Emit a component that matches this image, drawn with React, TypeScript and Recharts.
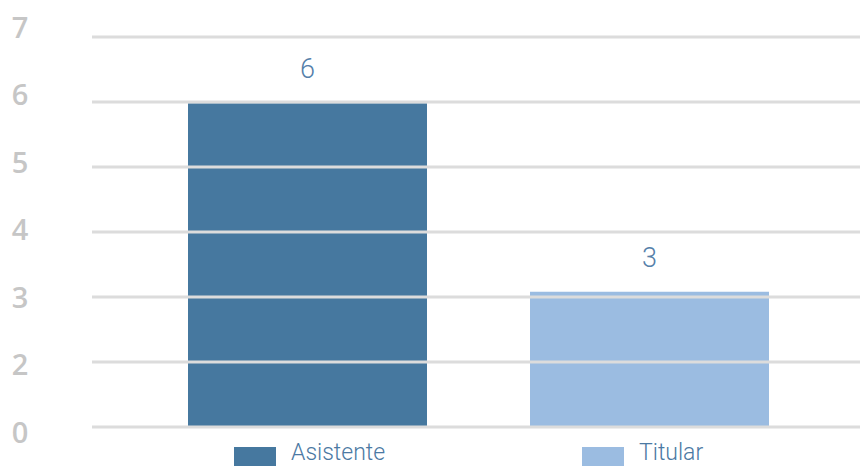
import React from 'react';
import { BarChart, Bar, XAxis, YAxis, ReferenceLine, LabelList, Cell } from 'recharts';

const categories = ['Asistente', 'Titular'];
const barHeights = [5.98, 3.08];
const valueLabels = ['6', '3'];
const yTicks = [1, 2, 3, 4, 5, 6, 7];
const yTickLabels = ['0', '2', '3', '4', '5', '6', '7'];
const colors = ['#46789f', '#9bbce1'];

const data = categories.map((name, i) => ({ name, value: barHeights[i], label: valueLabels[i] }));

const groupWidths: Record<string, number> = { Asistente: 146, Titular: 134 };

const XTick = (props: any) => {
  const { x, y, payload, index } = props;
  const name: string = payload.value;
  const total = groupWidths[name] ?? 140;
  const start = x - total / 2;
  return (
    <g>
      <rect x={start} y={y + 20} width={42} height={19} fill={colors[index % colors.length]} />
      <text
        x={start + 57}
        y={y + 33}
        fill="#4b79a3"
        fontSize={23}
        fontWeight={300}
        fontFamily="Roboto, sans-serif"
        textAnchor="start"
      >
        {name}
      </text>
    </g>
  );
};

const YTick = (props: any) => {
  const { y, payload } = props;
  const idx = yTicks.indexOf(payload.value);
  const base = 427;
  const ly = base + (y - base) * 1.038 + 4;
  return (
    <text
      x={20}
      y={ly}
      fill="#c6c6c6"
      fontSize={29}
      fontWeight={600}
      fontFamily="'Open Sans', sans-serif"
      textAnchor="middle"
      dominantBaseline="central"
    >
      {yTickLabels[idx]}
    </text>
  );
};

export default function App() {
  return (
    <div style={{ position: 'absolute', left: 0, top: 0, width: 861, height: 466, background: '#fff' }}>
      <BarChart width={861} height={466} data={data} margin={{ top: 37, right: 1, bottom: 0, left: 0 }}>
        <XAxis
          dataKey="name"
          height={39}
          axisLine={false}
          tickLine={false}
          tickSize={0}
          tickMargin={0}
          padding={{ left: 44, right: 40 }}
          tick={<XTick />}
          interval={0}
        />
        <YAxis
          width={92}
          domain={[1, 7]}
          ticks={yTicks}
          type="number"
          axisLine={false}
          tickLine={false}
          tick={<YTick />}
          interval={0}
        />
        <Bar dataKey="value" barSize={239} isAnimationActive={false}>
          {data.map((d, i) => (
            <Cell key={d.name} fill={colors[i]} />
          ))}
          <LabelList
            dataKey="label"
            position="top"
            offset={25}
            fill="#5580aa"
            fontSize={27}
            fontWeight={300}
            fontFamily="Roboto, sans-serif"
          />
        </Bar>
        {yTicks.map((t) => (
          <ReferenceLine key={t} y={t} stroke="#dcdcdc" strokeWidth={3} />
        ))}
      </BarChart>
    </div>
  );
}
